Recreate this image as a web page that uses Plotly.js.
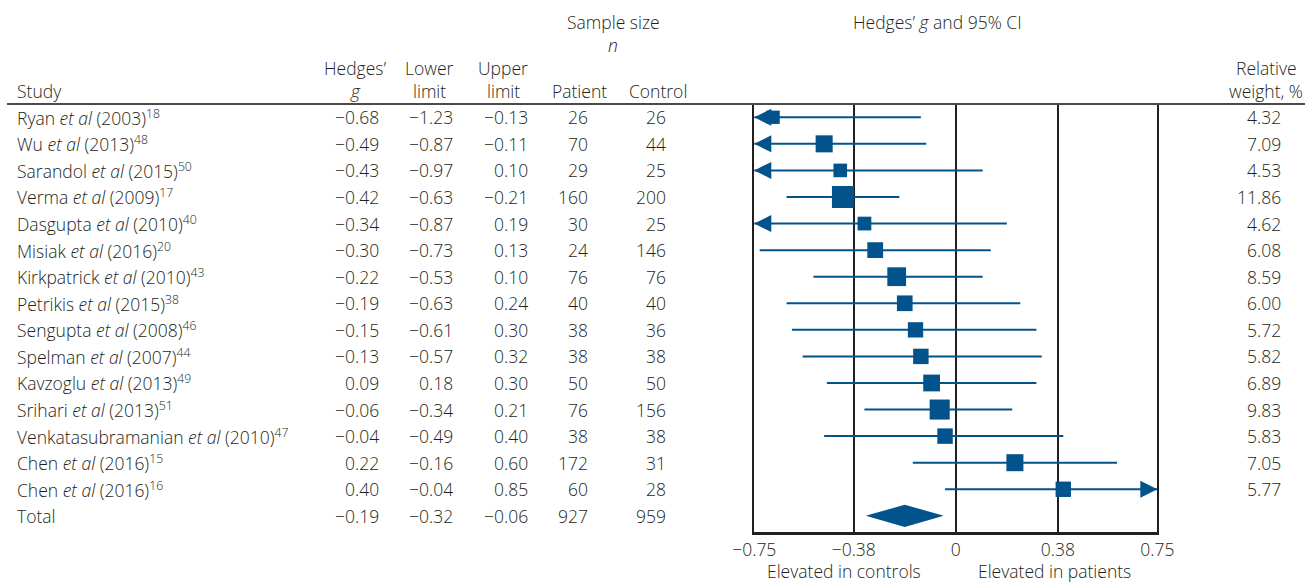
<!DOCTYPE html>
<html>
<head>
<meta charset="utf-8">
<script src="https://cdn.plot.ly/plotly-3.0.1.min.js"></script>
<style>html,body{margin:0;padding:0;background:#fff;}#chart{width:1305px;height:585px;}</style>
</head>
<body>
<div id="chart"></div>
<script>
// ---- data ----
const authors = ['Ryan','Wu','Sarandol','Verma','Dasgupta','Misiak','Kirkpatrick','Petrikis','Sengupta','Spelman','Kavzoglu','Srihari','Venkatasubramanian','Chen','Chen'];
const years = [2003,2013,2015,2009,2010,2016,2010,2015,2008,2007,2013,2013,2010,2016,2016];
const refs = [18,48,50,17,40,20,43,38,46,44,49,51,47,15,16];
// values printed in the table
const tableG = [-0.68,-0.49,-0.43,-0.42,-0.34,-0.30,-0.22,-0.19,-0.15,-0.13,0.09,-0.06,-0.04,0.22,0.40];
const tableLower = [-1.23,-0.87,-0.97,-0.63,-0.87,-0.73,-0.53,-0.63,-0.61,-0.57,0.18,-0.34,-0.49,-0.16,-0.04];
const tableUpper = [-0.13,-0.11,0.10,-0.21,0.19,0.13,0.10,0.24,0.30,0.32,0.30,0.21,0.40,0.60,0.85];
const patients = [26,70,29,160,30,24,76,40,38,38,50,76,38,172,60];
const controls = [26,44,25,200,25,146,76,40,36,38,50,156,38,31,28];
const weights = [4.32,7.09,4.53,11.86,4.62,6.08,8.59,6.00,5.72,5.82,6.89,9.83,5.83,7.05,5.77];
// values as drawn in the forest plot
const plotG = [-0.68,-0.49,-0.43,-0.42,-0.34,-0.30,-0.22,-0.19,-0.15,-0.13,-0.09,-0.06,-0.04,0.22,0.40];
const plotLower = [-1.23,-0.87,-0.97,-0.63,-0.87,-0.73,-0.53,-0.63,-0.61,-0.57,-0.48,-0.34,-0.49,-0.16,-0.04];
const plotUpper = [-0.13,-0.11,0.10,-0.21,0.19,0.13,0.10,0.24,0.30,0.32,0.30,0.21,0.40,0.60,0.85];
const total = {label:'Total', g:-0.19, lower:-0.32, upper:-0.06, patients:927, controls:959};
const totalPlot = {g:-0.19, lower:-0.335, upper:-0.045};
const xTickVals = [-0.75,-0.38,0,0.38,0.75];
const xTickText = ['\u22120.75','\u22120.38','0','0.38','0.75'];

// ---- styling ----
const W = 1305, H = 585;
const BLUE = '#02538c';
const INK = '#231f20';
const FONT = {family:'"Open Sans", Lato, sans-serif', size:17.5, color:INK, weight:300};
const px = v => v / W;
const py = v => 1 - v / H;
const fmt = v => (v < 0 ? '\u2212' : '') + Math.abs(v).toFixed(2);
const n = authors.length;
const rows = authors.map((_, i) => i);
const xMin = xTickVals[0], xMax = xTickVals[xTickVals.length - 1];

const traces = [];
// CI lines
const lx = [], ly = [];
rows.forEach(i => { lx.push(plotLower[i], plotUpper[i], null); ly.push(i, i, null); });
traces.push({type:'scatter', mode:'lines', x:lx, y:ly, line:{color:BLUE, width:2}, hoverinfo:'skip'});
// squares
traces.push({type:'scatter', mode:'markers', x:plotG, y:rows,
  marker:{symbol:'square', color:BLUE, opacity:1, size:weights.map(w => 6.4 * Math.sqrt(w)), line:{width:0}}, cliponaxis:false});
// arrows for truncated CIs
const la = rows.filter(i => plotLower[i] < xMin);
const ra = rows.filter(i => plotUpper[i] > xMax);
traces.push({type:'scatter', mode:'markers', x:la.map(() => xMin), y:la,
  marker:{symbol:'arrow-left', color:BLUE, opacity:1, size:17, line:{width:0}}, cliponaxis:false});
traces.push({type:'scatter', mode:'markers', x:ra.map(() => xMax), y:ra,
  marker:{symbol:'arrow-right', color:BLUE, opacity:1, size:17, line:{width:0}}, cliponaxis:false});
// total diamond
const ty = n, dh = 0.42;
traces.push({type:'scatter', mode:'lines', fill:'toself', fillcolor:BLUE,
  x:[totalPlot.lower, totalPlot.g, totalPlot.upper, totalPlot.g, totalPlot.lower],
  y:[ty, ty - dh, ty, ty + dh, ty], line:{width:0, color:BLUE}, hoverinfo:'skip'});

// ---- table annotations ----
const ann = [];
function addA(text, x, y, xanchor, yref) {
  ann.push({text:text, x:px(x), xref:'paper', y:y, yref:yref || 'paper', xanchor:xanchor, yanchor:'middle', showarrow:false, font:FONT});
}
rows.forEach(i => {
  addA(authors[i] + ' <i>et al</i> (' + years[i] + ')<sup>' + refs[i] + '</sup>', 15, i, 'left', 'y');
  addA(fmt(tableG[i]), 381, i, 'right', 'y');
  addA(fmt(tableLower[i]), 455, i, 'right', 'y');
  addA(fmt(tableUpper[i]), 530, i, 'right', 'y');
  addA(String(patients[i]), 590, i, 'right', 'y');
  addA(String(controls[i]), 668, i, 'right', 'y');
  addA(weights[i].toFixed(2), 1283, i, 'right', 'y');
});
addA(total.label, 15, n, 'left', 'y');
addA(fmt(total.g), 381, n, 'right', 'y');
addA(fmt(total.lower), 455, n, 'right', 'y');
addA(fmt(total.upper), 530, n, 'right', 'y');
addA(String(total.patients), 590, n, 'right', 'y');
addA(String(total.controls), 668, n, 'right', 'y');

// headers
addA('Sample size', 613, py(22), 'center');
addA('<i>n</i>', 613, py(45), 'center');
addA('Hedges\u2019 <i>g</i> and 95% CI', 937, py(22), 'center');
addA('Hedges\u2019', 355, py(68), 'center');
addA('<i>g</i>', 355, py(91), 'center');
addA('Lower', 429, py(68), 'center');
addA('limit', 429, py(91), 'center');
addA('Upper', 503, py(68), 'center');
addA('limit', 503, py(91), 'center');
addA('Study', 15, py(91), 'left');
addA('Patient', 579, py(91), 'center');
addA('Control', 658, py(91), 'center');
addA('Relative', 1266, py(68), 'center');
addA('weight, %', 1266, py(91), 'center');
addA('Elevated in controls', 844, py(571), 'center');
addA('Elevated in patients', 1054, py(571), 'center');

const layout = {
  width:W, height:H, margin:{l:0, r:0, t:0, b:0},
  paper_bgcolor:'#fff', plot_bgcolor:'#fff', showlegend:false,
  font:FONT,
  xaxis:{domain:[px(754.3), px(1157.3)], range:[xMin, xMax], tickvals:xTickVals, ticktext:xTickText,
    showgrid:true, gridcolor:INK, gridwidth:2, zeroline:false, showline:true, linecolor:INK, linewidth:2.5,
    ticks:'', tickfont:FONT, fixedrange:true},
  yaxis:{domain:[py(532.3), py(104)], range:[n + 0.62, -0.5], showgrid:false, zeroline:false,
    showticklabels:false, ticks:'', showline:true, mirror:true, linecolor:INK, linewidth:2, fixedrange:true},
  shapes:[{type:'line', xref:'paper', yref:'paper', x0:px(7), x1:1, y0:py(104), y1:py(104), line:{color:'#4a4a4a', width:2}}],
  annotations:ann
};
Plotly.newPlot('chart', traces, layout, {displayModeBar:false, staticPlot:true});
</script>
</body>
</html>
